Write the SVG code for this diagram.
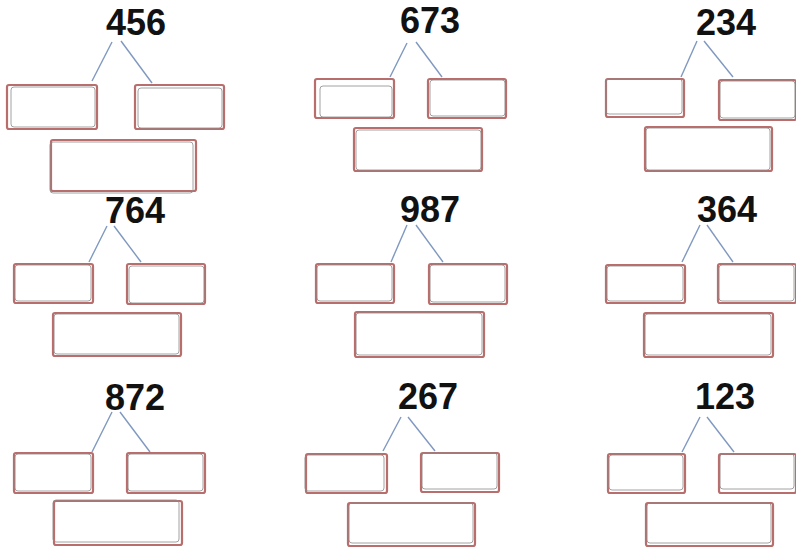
<svg xmlns="http://www.w3.org/2000/svg" width="796" height="549" viewBox="0 0 796 549">
<style>
.num{font-family:"Liberation Sans",Arial,sans-serif;font-weight:bold;font-size:36px;fill:#111;text-anchor:middle}
.bo{fill:#fff;stroke:#b86e6c;stroke-width:2.2}
.bi{fill:none;stroke:#8a8a8a;stroke-width:0.8}
.ln{stroke:#7f98c0;stroke-width:1.4;fill:none}
</style>
<rect width="796" height="549" fill="#fff"/>
<g id="connectors">
<line class="ln" x1="112" y1="42" x2="92" y2="81"/><line class="ln" x1="121" y1="41" x2="152" y2="83"/>
<line class="ln" x1="407" y1="43" x2="390" y2="77"/><line class="ln" x1="416" y1="42" x2="442" y2="77"/>
<line class="ln" x1="697" y1="41" x2="681" y2="77"/><line class="ln" x1="704" y1="41" x2="733" y2="77"/>
<line class="ln" x1="107" y1="226" x2="89" y2="262"/><line class="ln" x1="114" y1="226" x2="141" y2="262"/>
<line class="ln" x1="407" y1="225" x2="391" y2="262"/><line class="ln" x1="416" y1="225" x2="443" y2="262"/>
<line class="ln" x1="700" y1="225" x2="682" y2="262"/><line class="ln" x1="707" y1="225" x2="733" y2="262"/>
<line class="ln" x1="112" y1="412" x2="92" y2="452"/><line class="ln" x1="120" y1="412" x2="150" y2="452"/>
<line class="ln" x1="401" y1="417" x2="383" y2="451"/><line class="ln" x1="408" y1="417" x2="435" y2="451"/>
<line class="ln" x1="700" y1="417" x2="682" y2="452"/><line class="ln" x1="707" y1="417" x2="734" y2="452"/>
</g>
<g id="n456">
<text class="num" x="136" y="35">456</text>
<rect class="bo" x="7" y="85" width="90" height="44" rx="2"/><rect class="bi" x="11" y="87" width="84" height="40" rx="3"/>
<rect class="bo" x="135" y="85" width="89" height="44" rx="2"/><rect class="bi" x="138" y="88" width="84" height="40" rx="3"/>
<rect class="bo" x="51" y="140" width="145" height="51" rx="2"/><rect class="bi" x="50" y="142" width="143" height="51" rx="3"/>
</g>
<g id="n673">
<text class="num" x="430" y="33">673</text>
<rect class="bo" x="315" y="79" width="79" height="39" rx="2"/><rect class="bi" x="320" y="86" width="72" height="31" rx="3"/>
<rect class="bo" x="428" y="79" width="78" height="39" rx="2"/><rect class="bi" x="430" y="80" width="75" height="36" rx="3"/>
<rect class="bo" x="354" y="128" width="128" height="43" rx="2"/><rect class="bi" x="356" y="130" width="125" height="40" rx="3"/>
</g>
<g id="n234">
<text class="num" x="726" y="35">234</text>
<rect class="bo" x="606" y="79" width="78" height="38" rx="2"/><rect class="bi" x="606" y="79" width="76" height="35" rx="3"/>
<rect class="bo" x="719" y="80" width="77" height="40" rx="2"/><rect class="bi" x="720" y="81" width="75" height="37" rx="3"/>
<rect class="bo" x="645" y="127" width="127" height="44" rx="2"/><rect class="bi" x="646" y="128" width="124" height="42" rx="3"/>
</g>
<g id="n764">
<text class="num" x="135" y="223">764</text>
<rect class="bo" x="14" y="264" width="79" height="39" rx="2"/><rect class="bi" x="15" y="265" width="76" height="36" rx="3"/>
<rect class="bo" x="127" y="264" width="78" height="40" rx="2"/><rect class="bi" x="129" y="266" width="75" height="37" rx="3"/>
<rect class="bo" x="53" y="313" width="128" height="43" rx="2"/><rect class="bi" x="54" y="314" width="125" height="40" rx="3"/>
</g>
<g id="n987">
<text class="num" x="430" y="222">987</text>
<rect class="bo" x="316" y="264" width="78" height="39" rx="2"/><rect class="bi" x="317" y="265" width="75" height="36" rx="3"/>
<rect class="bo" x="429" y="264" width="78" height="40" rx="2"/><rect class="bi" x="430" y="265" width="75" height="37" rx="3"/>
<rect class="bo" x="355" y="312" width="129" height="45" rx="2"/><rect class="bi" x="356" y="313" width="126" height="42" rx="3"/>
</g>
<g id="n364">
<text class="num" x="727" y="222">364</text>
<rect class="bo" x="606" y="265" width="79" height="38" rx="2"/><rect class="bi" x="607" y="266" width="76" height="35" rx="3"/>
<rect class="bo" x="718" y="264" width="78" height="39" rx="2"/><rect class="bi" x="719" y="265" width="75" height="36" rx="3"/>
<rect class="bo" x="644" y="313" width="129" height="44" rx="2"/><rect class="bi" x="645" y="314" width="126" height="41" rx="3"/>
</g>
<g id="n872">
<text class="num" x="135" y="410">872</text>
<rect class="bo" x="14" y="453" width="79" height="40" rx="2"/><rect class="bi" x="15" y="454" width="76" height="37" rx="3"/>
<rect class="bo" x="127" y="453" width="78" height="40" rx="2"/><rect class="bi" x="128" y="454" width="75" height="37" rx="3"/>
<rect class="bo" x="54" y="501" width="128" height="44" rx="2"/><rect class="bi" x="53" y="500" width="126" height="42" rx="3"/>
</g>
<g id="n267">
<text class="num" x="428" y="409">267</text>
<rect class="bo" x="306" y="454" width="81" height="39" rx="2"/><rect class="bi" x="305" y="455" width="79" height="36" rx="3"/>
<rect class="bo" x="421" y="453" width="78" height="39" rx="2"/><rect class="bi" x="422" y="453" width="75" height="36" rx="3"/>
<rect class="bo" x="348" y="503" width="127" height="43" rx="2"/><rect class="bi" x="349" y="503" width="124" height="40" rx="3"/>
</g>
<g id="n123">
<text class="num" x="725" y="409">123</text>
<rect class="bo" x="608" y="454" width="77" height="39" rx="2"/><rect class="bi" x="609" y="455" width="74" height="35" rx="3"/>
<rect class="bo" x="719" y="454" width="77" height="39" rx="2"/><rect class="bi" x="720" y="454" width="74" height="35" rx="3"/>
<rect class="bo" x="646" y="503" width="127" height="43" rx="2"/><rect class="bi" x="647" y="503" width="124" height="40" rx="3"/>
</g>
</svg>
